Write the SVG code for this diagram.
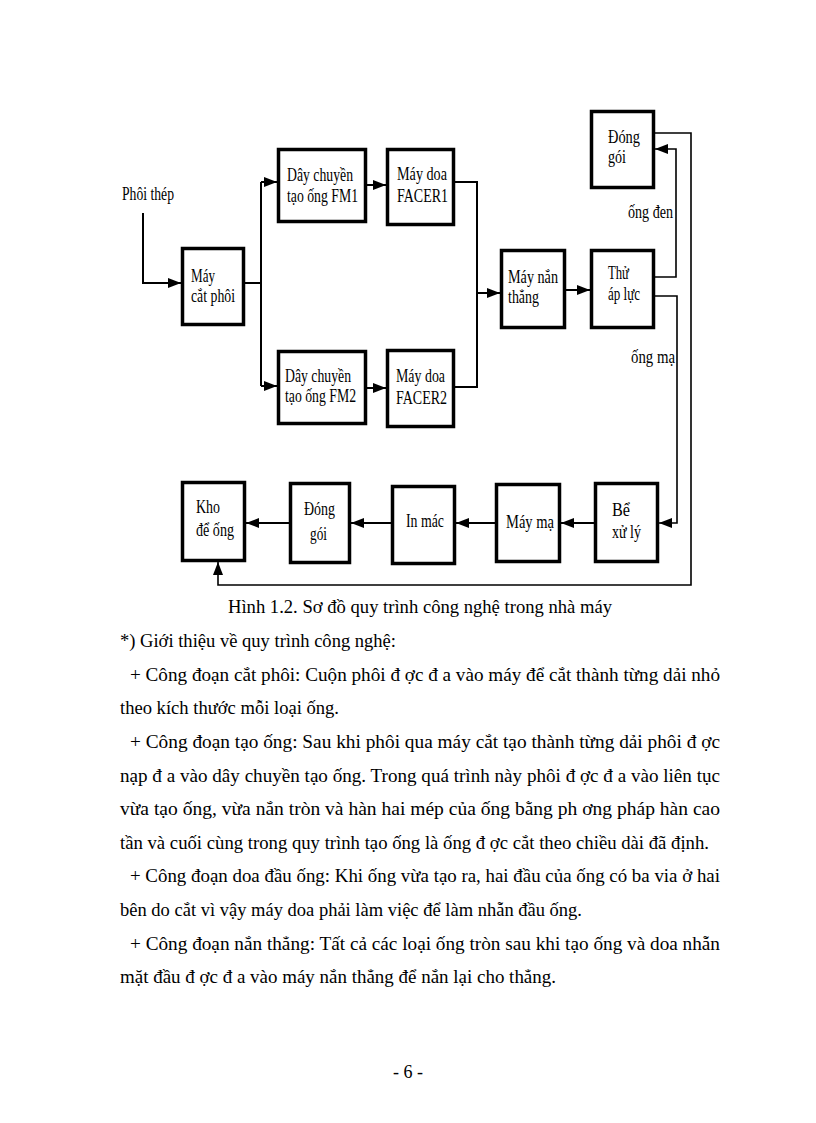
<svg xmlns="http://www.w3.org/2000/svg" width="816" height="1123" viewBox="0 0 816 1123">
<style>
.box{fill:#fff;stroke:#000;stroke-width:3.5}
.lbl{font-family:"Liberation Serif","Times New Roman",serif;font-size:18.5px;fill:#000}
.body{font-family:"Liberation Serif","Times New Roman",serif;font-size:19px;fill:#000}
.ln{fill:none;stroke:#000;stroke-width:2}
.fb{fill:none;stroke:#000;stroke-width:1.6}
</style>
<defs>
<marker id="arr" markerUnits="userSpaceOnUse" markerWidth="14" markerHeight="11" refX="13" refY="5" orient="auto">
<path d="M0,0 L13,5 L0,10 z" fill="#000"/>
</marker>
</defs>
<rect width="816" height="1123" fill="#fff"/>

<g id="connectors">
<polyline class="ln" points="143,213 143,283 181,283" marker-end="url(#arr)"/>
<polyline class="ln" points="245,283 261,283"/>
<polyline class="ln" points="261,182 261,386"/>
<polyline class="ln" points="261,182 277,182" marker-end="url(#arr)"/>
<polyline class="ln" points="261,386 277,386" marker-end="url(#arr)"/>
<polyline class="ln" points="367,185 386,185" marker-end="url(#arr)"/>
<polyline class="ln" points="367,388 386,388" marker-end="url(#arr)"/>
<polyline class="ln" points="455,182 477,182 477,387 455,387"/>
<polyline class="ln" points="477,293 500,293" marker-end="url(#arr)"/>
<polyline class="ln" points="566,290 590,290" marker-end="url(#arr)"/>
<polyline class="fb" points="655,277 676,277 676,149 655,149" marker-end="url(#arr)"/>
<polyline class="fb" points="655,296 677,296 677,523 659,523" marker-end="url(#arr)"/>
<polyline class="fb" points="655,133 691,133 691,585 218,585 218,562" marker-end="url(#arr)"/>
<polyline class="ln" points="594,523 561,523" marker-end="url(#arr)"/>
<polyline class="ln" points="495,523 456,523" marker-end="url(#arr)"/>
<polyline class="ln" points="391,523 351,523" marker-end="url(#arr)"/>
<polyline class="ln" points="289,523 246,523" marker-end="url(#arr)"/>
</g>

<g id="phoi-thep"><text class="lbl" x="122" y="200" textLength="52" lengthAdjust="spacingAndGlyphs">Phôi thép</text></g>

<g id="may-cat-phoi">
<rect class="box" x="182.5" y="248.5" width="61" height="76"/>
<text class="lbl" x="191" y="282" textLength="24" lengthAdjust="spacingAndGlyphs">Máy</text>
<text class="lbl" x="191" y="302" textLength="44" lengthAdjust="spacingAndGlyphs">cắt phôi</text>
</g>

<g id="fm1">
<rect class="box" x="278.5" y="149.5" width="87" height="72"/>
<text class="lbl" x="287" y="181" textLength="66" lengthAdjust="spacingAndGlyphs">Dây chuyền</text>
<text class="lbl" x="287" y="202" textLength="71" lengthAdjust="spacingAndGlyphs">tạo ống FM1</text>
</g>

<g id="facer1">
<rect class="box" x="387.5" y="149.5" width="66" height="75"/>
<text class="lbl" x="397" y="180" textLength="50" lengthAdjust="spacingAndGlyphs">Máy doa</text>
<text class="lbl" x="397" y="202" textLength="51" lengthAdjust="spacingAndGlyphs">FACER1</text>
</g>

<g id="fm2">
<rect class="box" x="278.5" y="351.5" width="87" height="72"/>
<text class="lbl" x="285" y="382" textLength="66" lengthAdjust="spacingAndGlyphs">Dây chuyền</text>
<text class="lbl" x="285" y="402" textLength="71" lengthAdjust="spacingAndGlyphs">tạo ống FM2</text>
</g>

<g id="facer2">
<rect class="box" x="387.5" y="350.5" width="66" height="76"/>
<text class="lbl" x="396" y="382" textLength="49" lengthAdjust="spacingAndGlyphs">Máy doa</text>
<text class="lbl" x="396" y="404" textLength="51" lengthAdjust="spacingAndGlyphs">FACER2</text>
</g>

<g id="may-nan-thang">
<rect class="box" x="501.5" y="250.5" width="63" height="77"/>
<text class="lbl" x="508" y="283" textLength="50" lengthAdjust="spacingAndGlyphs">Máy nắn</text>
<text class="lbl" x="508" y="303" textLength="31" lengthAdjust="spacingAndGlyphs">thẳng</text>
</g>

<g id="thu-ap-luc">
<rect class="box" x="591.5" y="250.5" width="62" height="77"/>
<text class="lbl" x="608" y="279" textLength="21" lengthAdjust="spacingAndGlyphs">Thử</text>
<text class="lbl" x="608" y="300" textLength="32" lengthAdjust="spacingAndGlyphs">áp lực</text>
</g>

<g id="dong-goi-1">
<rect class="box" x="591.5" y="111.5" width="62" height="76"/>
<text class="lbl" x="608" y="143" textLength="32" lengthAdjust="spacingAndGlyphs">Đóng</text>
<text class="lbl" x="608" y="163" textLength="18" lengthAdjust="spacingAndGlyphs">gói</text>
</g>

<g id="label-ong-den"><text class="lbl" x="628" y="218" textLength="45" lengthAdjust="spacingAndGlyphs">ống đen</text></g>
<g id="label-ong-ma"><text class="lbl" x="631" y="363" textLength="44" lengthAdjust="spacingAndGlyphs">ống mạ</text></g>

<g id="be-xu-ly">
<rect class="box" x="595.5" y="483.5" width="62" height="78"/>
<text class="lbl" x="612" y="516" textLength="18" lengthAdjust="spacingAndGlyphs">Bể</text>
<text class="lbl" x="612" y="538" textLength="29" lengthAdjust="spacingAndGlyphs">xử lý</text>
</g>

<g id="may-ma">
<rect class="box" x="496.5" y="484.5" width="63" height="77"/>
<text class="lbl" x="506" y="528" textLength="48" lengthAdjust="spacingAndGlyphs">Máy mạ</text>
</g>

<g id="in-mac">
<rect class="box" x="392.5" y="486.5" width="62" height="77"/>
<text class="lbl" x="406" y="527" textLength="38" lengthAdjust="spacingAndGlyphs">In mác</text>
</g>

<g id="dong-goi-2">
<rect class="box" x="290.5" y="483.5" width="59" height="79"/>
<text class="lbl" x="304" y="515" textLength="31" lengthAdjust="spacingAndGlyphs">Đóng</text>
<text class="lbl" x="310" y="540" textLength="17" lengthAdjust="spacingAndGlyphs">gói</text>
</g>

<g id="kho-de-ong">
<rect class="box" x="182.5" y="482.5" width="62" height="78"/>
<text class="lbl" x="196" y="513" textLength="24" lengthAdjust="spacingAndGlyphs">Kho</text>
<text class="lbl" x="196" y="536" textLength="38" lengthAdjust="spacingAndGlyphs">để ống</text>
</g>

<g id="text-body">
<text class="body" x="228" y="613" textLength="384" lengthAdjust="spacingAndGlyphs">Hình 1.2. Sơ đồ quy trình công nghệ trong nhà máy</text>
<text class="body" x="120" y="647" textLength="276" lengthAdjust="spacingAndGlyphs">*) Giới thiệu về quy trình công nghệ:</text>
<text class="body" x="130" y="681" textLength="590" lengthAdjust="spacingAndGlyphs">+ Công đoạn cắt phôi: Cuộn phôi đ ợc đ a vào máy để cắt thành từng dải nhỏ</text>
<text class="body" x="120" y="714" textLength="219" lengthAdjust="spacingAndGlyphs">theo kích thước mỗi loại ống.</text>
<text class="body" x="130" y="748" textLength="590" lengthAdjust="spacingAndGlyphs">+ Công đoạn tạo ống: Sau khi phôi qua máy cắt tạo thành từng dải phôi đ ợc</text>
<text class="body" x="120" y="782" textLength="600" lengthAdjust="spacingAndGlyphs">nạp đ a vào dây chuyền tạo ống. Trong quá trình này phôi đ ợc đ a vào liên tục</text>
<text class="body" x="120" y="815" textLength="600" lengthAdjust="spacingAndGlyphs">vừa tạo ống, vừa nắn tròn và hàn hai mép của ống bằng ph ơng pháp hàn cao</text>
<text class="body" x="120" y="849" textLength="589" lengthAdjust="spacingAndGlyphs">tần và cuối cùng trong quy trình tạo ống là ống đ ợc cắt theo chiều dài đã định.</text>
<text class="body" x="130" y="882" textLength="590" lengthAdjust="spacingAndGlyphs">+ Công đoạn doa đầu ống: Khi ống vừa tạo ra, hai đầu của ống có ba via ở hai</text>
<text class="body" x="120" y="916" textLength="462" lengthAdjust="spacingAndGlyphs">bên do cắt vì vậy máy doa phải làm việc để làm nhẵn đầu ống.</text>
<text class="body" x="130" y="950" textLength="590" lengthAdjust="spacingAndGlyphs">+ Công đoạn nắn thẳng: Tất cả các loại ống tròn sau khi tạo ống và doa nhẵn</text>
<text class="body" x="120" y="983" textLength="436" lengthAdjust="spacingAndGlyphs">mặt đầu đ ợc đ a vào máy nắn thẳng để nắn lại cho thẳng.</text>
<text class="body" x="393" y="1078" textLength="30" lengthAdjust="spacingAndGlyphs">- 6 -</text>
</g>
</svg>
